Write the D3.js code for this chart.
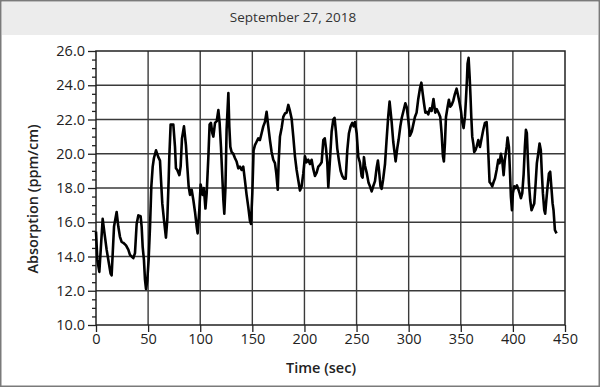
<!DOCTYPE html>
<html>
<head>
<meta charset="utf-8">
<script src="https://cdn.jsdelivr.net/npm/d3@7/dist/d3.min.js"></script>
<style>
	body { margin: 0; background: #fff; }
	text { font-family: "Open Sans", "Noto Sans", sans-serif; }
</style>
</head>
<body>
<div id="chart"></div>
<script>
"use strict";

// absorption run
var chartDate = "September 27, 2018";
var xLabel = "Time (sec)";
var yLabel = "Absorption (ppm/cm)";

var xTicks = [0, 50, 100, 150, 200, 250, 300, 350, 400, 450];
var yTicks = [10, 12, 14, 16, 18, 20, 22, 24, 26];

var timeSec = [
	0, 1.3, 3.2, 6.4, 8.6, 10.2, 14, 15, 17.3, 19.8, 21.4, 23, 24.6, 26.2, 28.8, 31, 32.6, 35.8, 37.4, 39,
	40.6, 42.8, 43.8, 44.8, 46, 47, 48, 49.2, 50.5, 51.8, 53.1, 54.4, 55.6, 57.6, 59.8, 61.4, 62.4, 63.6, 65.2, 67.1,
	68.4, 69.7, 70.3, 71.6, 74.2, 75.8, 76.7, 78, 80, 81.2, 82.5, 84.4, 86.3, 87.6, 88.9, 90.2, 91.8, 93.4, 95, 96.6,
	97.5, 99.1, 100.4, 102.3, 103.5, 105, 106.2, 107.8, 109, 110.3, 111.6, 112.6, 114.2, 115.8, 117.4, 118.6, 119.9, 121.2, 122.2, 123.1,
	124.2, 125.3, 127, 127.9, 128.9, 130.1, 131.7, 133.3, 134.9, 136.5, 138.1, 139.7, 141.3, 142.9, 144.5, 146.1, 147.7, 148.7, 150, 151.2,
	152.5, 154.1, 155.7, 157.3, 158.9, 160.5, 162.1, 163.7, 165.3, 166.9, 168.5, 170.1, 171.7, 173, 174.4, 175.3, 176.5, 178.1, 179.7, 181.3,
	182.9, 184.5, 186.1, 187.7, 189.3, 190.9, 192.5, 194.1, 195.7, 197.3, 198.9, 200.5, 202, 203.7, 205.3, 206.9, 208.5, 210.1, 211.7, 213.3,
	214.9, 216.5, 218.1, 219.5, 220.7, 221.9, 222.9, 224.5, 226.1, 227.7, 228.9, 230.2, 231.5, 233.1, 234.7, 236.3, 237.9, 239.6, 241.1, 242.7,
	244.3, 245.9, 247.2, 248.5, 250.1, 251.7, 253.2, 254.9, 255.8, 257.1, 258.1, 259.7, 261.5, 262.9, 264.5, 266, 267.7, 269.3, 270.5, 271.6,
	273, 274.1, 275.5, 277.3, 278.8, 280.4, 281.7, 283.6, 285.2, 286.8, 287.5, 289, 290.3, 292, 293.4, 295, 296.8, 298.2, 299.6, 301.2,
	303, 304.4, 306, 307.6, 309.2, 310.8, 312.2, 313.3, 314.7, 316, 317.4, 318.8, 320.4, 322, 323.8, 325.5, 327, 329, 330.3, 331.6,
	332.9, 333.8, 334.8, 335.8, 337.4, 338.6, 339.9, 341.2, 342.8, 344.4, 346, 347.4, 348.9, 350.2, 351.4, 352.7, 354, 354.9, 355.9, 356.5,
	357.5, 358.5, 359.3, 360.1, 361, 362, 362.9, 364, 365.2, 366.8, 368.4, 370, 371.6, 373.2, 374.8, 375.7, 376.7, 377.6, 378.9, 380.2,
	381.5, 382.8, 384.4, 386, 387.2, 388.5, 389.8, 391.1, 392.3, 394, 394.9, 396.2, 397.1, 398.1, 399.1, 400, 401.3, 402.6, 403.9, 405.1,
	406.4, 407.7, 409, 410.3, 411.5, 412.5, 413.4, 414.4, 415.4, 416.6, 417.9, 419.2, 420.5, 421.8, 423, 424.3, 425.6, 426.8, 427.8, 428.8,
	430.1, 431, 432.1, 433.3, 434.6, 435.8, 437.1, 438.1, 439, 439.7, 440.3, 441.9
];

var absorption = [
	15.45, 13.8, 13.1, 16.2, 15.15, 14.4, 13.0, 12.9, 15.75, 16.6, 15.75, 15.15, 14.85, 14.8, 14.65, 14.4, 14.1, 13.9, 14.2, 15.9,
	16.4, 16.35, 15.75, 14.55, 13.8, 12.65, 12.1, 12.6, 13.8, 15.7, 18.1, 19.25, 19.75, 20.2, 19.8, 19.6, 18.45, 17.1, 16.15, 15.1,
	16.15, 18.45, 19.75, 21.7, 21.7, 20.4, 19.15, 19.05, 18.75, 19.25, 20.9, 21.6, 20.5, 19.25, 18.1, 17.6, 17.9, 17.3, 16.6, 15.75,
	15.35, 16.7, 18.2, 17.6, 18.0, 16.8, 17.7, 19.8, 21.7, 21.8, 21.2, 21.0, 21.8, 21.9, 22.55, 21.8, 20.4, 18.65, 17.3, 16.5,
	18.0, 21.4, 23.55, 21.6, 20.4, 20.1, 20.0, 19.75, 19.55, 19.15, 19.25, 19.05, 19.25, 18.45, 17.6, 16.9, 16.1, 15.9, 17.7, 20.2,
	20.5, 20.7, 20.9, 20.8, 21.2, 21.6, 21.85, 22.45, 21.6, 20.8, 20.1, 19.65, 19.45, 18.85, 17.9, 19.6, 21.0, 21.5, 22.15, 22.35,
	22.4, 22.85, 22.5, 22.05, 21.0, 19.85, 19.05, 18.45, 17.85, 18.1, 18.85, 19.85, 19.5, 19.65, 19.4, 19.65, 19.1, 18.7, 18.9, 19.25,
	19.35, 19.5, 20.8, 20.9, 20.3, 19.5, 18.05, 19.65, 21.3, 22.0, 22.1, 21.3, 20.3, 19.6, 19.0, 18.7, 18.55, 18.55, 20.2, 21.2,
	21.6, 21.8, 21.6, 21.85, 21.2, 19.8, 19.5, 18.7, 18.6, 19.8, 19.3, 18.9, 18.3, 18.1, 17.8, 18.1, 18.4, 19.2, 19.6, 19.0,
	18.1, 17.95, 18.5, 19.4, 20.8, 22.2, 23.05, 21.9, 20.7, 19.9, 19.55, 20.3, 20.8, 21.6, 22.1, 22.5, 22.95, 22.7, 22.0, 21.05,
	21.3, 21.7, 22.15, 22.4, 23.2, 23.8, 24.15, 23.6, 22.95, 22.4, 22.45, 22.3, 22.65, 22.5, 23.2, 22.4, 22.6, 22.35, 22.15, 21.2,
	19.85, 19.55, 20.6, 22.15, 22.75, 23.15, 22.75, 22.85, 23.1, 23.5, 23.8, 23.4, 22.95, 22.5, 21.85, 21.5, 22.15, 23.1, 24.3, 25.25,
	25.6, 24.5, 23.4, 22.15, 21.0, 20.6, 20.1, 20.2, 20.4, 20.8, 20.4, 20.9, 21.4, 21.8, 21.85, 21.0, 19.65, 18.35, 18.25, 18.1,
	18.35, 18.55, 19.05, 19.65, 19.45, 20.0, 19.6, 18.75, 19.65, 20.4, 20.95, 20.4, 19.05, 17.5, 16.7, 17.7, 18.1, 18.0, 18.15, 17.95,
	17.7, 17.4, 17.7, 18.8, 20.4, 21.4, 21.2, 19.65, 18.25, 17.3, 16.7, 16.9, 17.1, 18.25, 19.45, 20.0, 20.6, 20.2, 18.85, 17.7,
	16.7, 16.5, 17.3, 18.1, 18.85, 18.95, 17.9, 17.1, 16.7, 16.1, 15.55, 15.35
];

var width = 600, height = 387;
var margin = {top: 51, right: 35, bottom: 62, left: 96};

var svg = d3.select("#chart").append("svg")
	.attr("width", width)
	.attr("height", height);

// frame and date header
svg.append("rect")
	.attr("x", 0.75).attr("y", 0.75)
	.attr("width", width - 1.5).attr("height", height - 1.5)
	.style("fill", "#fff")
	.style("stroke", "#7a7a7a")
	.style("stroke-width", 1.5);

svg.append("rect")
	.attr("x", 2).attr("y", 2)
	.attr("width", width - 4).attr("height", 33)
	.style("fill", "#ececec");

svg.append("text")
	.attr("x", 293).attr("y", 22)
	.style("font-size", "13.5px")
	.style("fill", "#333")
	.style("text-anchor", "middle")
	.text(chartDate);

var x = d3.scaleLinear().domain([0, 450]).range([margin.left, width - margin.right]);
var y = d3.scaleLinear().domain([10, 26]).range([height - margin.bottom, margin.top]);

// grid
var grid = svg.append("g");
grid.selectAll(".gx").data(xTicks.slice(1, -1)).enter().append("line")
	.attr("x1", function(d) { return x(d); }).attr("x2", function(d) { return x(d); })
	.attr("y1", y(10)).attr("y2", y(26))
	.style("stroke", "#3a3a3a").style("stroke-width", 1.4);
grid.selectAll(".gy").data(yTicks.slice(1, -1)).enter().append("line")
	.attr("x1", x(0)).attr("x2", x(450))
	.attr("y1", function(d) { return y(d); }).attr("y2", function(d) { return y(d); })
	.style("stroke", "#3a3a3a").style("stroke-width", 1.4);

grid.append("rect")
	.attr("x", x(0)).attr("y", y(26))
	.attr("width", x(450) - x(0)).attr("height", y(10) - y(26))
	.style("fill", "none")
	.style("stroke", "#222")
	.style("stroke-width", 1.5);

// axes
var yMinor = d3.range(10, 26.01, 0.5).filter(function(d) { return d % 2 !== 0; });

var yAxis = svg.append("g")
	.attr("transform", "translate(" + x(0) + ",0)")
	.call(d3.axisLeft(y).tickValues(yTicks).tickSize(8).tickPadding(3)
		.tickFormat(d3.format(".1f")));

svg.append("g")
	.attr("transform", "translate(" + x(0) + ",0)")
	.call(d3.axisLeft(y).tickValues(yMinor).tickSize(4).tickFormat(""))
	.call(function(g) { g.select(".domain").remove(); });

var xAxis = svg.append("g")
	.attr("transform", "translate(0," + y(10) + ")")
	.call(d3.axisBottom(x).tickValues(xTicks).tickSize(7).tickPadding(2)
		.tickFormat(d3.format("d")));

svg.selectAll(".domain").remove();
svg.selectAll(".tick line").style("stroke", "#222").style("stroke-width", 1.3);
svg.selectAll(".tick text")
	.style("font-family", "'Open Sans', sans-serif")
	.style("font-size", "14.5px")
	.style("fill", "#222");

// titles
svg.append("text")
	.attr("x", 321).attr("y", 373)
	.style("font-size", "14.5px")
	.style("font-weight", 600)
	.style("fill", "#222")
	.style("text-anchor", "middle")
	.text(xLabel);

svg.append("text")
	.attr("transform", "translate(38,199) rotate(-90)")
	.style("font-size", "14.5px")
	.style("font-weight", 600)
	.style("fill", "#222")
	.style("text-anchor", "middle")
	.text(yLabel);

// the run itself
var points = timeSec.map(function(t, i) { return [t, absorption[i]]; });

svg.append("path")
	.datum(points)
	.attr("d", d3.line()
		.x(function(d) { return x(d[0]); })
		.y(function(d) { return y(d[1]); }))
	.style("fill", "none")
	.style("stroke", "#000")
	.style("stroke-width", 2.6)
	.style("stroke-linejoin", "round");
</script>
</body>
</html>
